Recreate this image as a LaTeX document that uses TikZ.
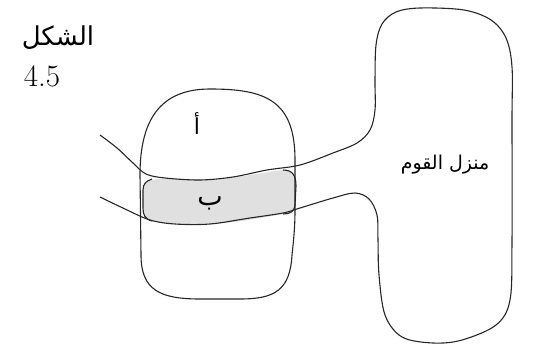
\documentclass[tikz,border=0pt]{standalone}
\usepackage{fontspec}
\newfontfamily\arabicfont[Script=Arabic]{DejaVu Sans}
\TeXXeTstate=1
\begin{document}
\begin{tikzpicture}[x=1pt,y=-1pt,
  outline/.style={draw=black!85, line width=1.1pt, line join=round},
  bandfill/.style={fill=black!12},
  arlabel/.style={inner sep=0pt, font=\arabicfont}]
\useasboundingbox (0,0) rectangle (534,352);
% band B (filled)
\path[bandfill] (150,180) .. controls (170,178) .. (210,180)
  .. controls (240,178) and (270,171) .. (284,170)
  .. controls (293,170) and (296,176) .. (296,186) -- (295,205)
  .. controls (294,212) and (290,214) .. (283,214)
  .. controls (260,218) and (230,224) .. (205,224)
  .. controls (180,224) and (165,224) .. (152,221)
  .. controls (145,219) and (143,215) .. (143,208) -- (143,190)
  .. controls (143,184) and (146,181) .. (150,180) -- cycle;
\draw[outline] (283,170) .. controls (293,170) and (296,176) .. (296,186) -- (295,205)
  .. controls (294,212) and (290,214) .. (283,214);
\draw[outline] (152,221) .. controls (145,219) and (143,215) .. (143,208) -- (143,190)
  .. controls (143,184) and (146,181) .. (152,179);
% shape A
\draw[outline] (140,175) .. controls (140,120) and (160,89) .. (210,89)
  .. controls (265,89) and (295,100) .. (295,160) -- (295,210)
  .. controls (295,230) and (293,245) .. (292,255)
  .. controls (290,290) and (275,299) .. (240,299) -- (200,299)
  .. controls (160,299) and (141,290) .. (141,255) -- cycle;
% road and house
\draw[outline] plot[smooth, tension=0.55] coordinates {
  (100,135) (117,148) (133,163) (146,174) (165,178) (200,180) (233,177)
  (267,170) (300,165) (333,153) (357,143) (370,130) (375,110) (375,80)
  (376,45) (382,24) (396,12) (420,8) (464,10) (491,20) (506,38) (512,67)
  (512,120) (512,240) (510,300) (496,325) (462,340) (433,343) (402,337)
  (385,315) (379,275) (378,240) (377,215) (369,199) (355,193) (333,198)
  (300,208) (283,213) (250,218) (210,224) (175,224) (150,220) (125,209) (100,197)};
% labels
\node[arlabel, font=\arabicfont\fontsize{26}{30}\selectfont] (title) at (58,38) {\beginR الشكل\endR};
\node[inner sep=0pt, font=\rmfamily\fontsize{31}{35}\selectfont] (num) at (42,76) {4.5};
\node[arlabel, font=\arabicfont\fontsize{19}{23}\selectfont] (house) at (445,165) {\beginR منزل القوم\endR};
\node[arlabel, font=\arabicfont\fontsize{22}{26}\selectfont] (a) at (197,124) {\beginR أ\endR};
\node[arlabel, font=\arabicfont\fontsize{27}{31}\selectfont] (b) at (210,203) {\beginR ب\endR};
\end{tikzpicture}
\end{document}
